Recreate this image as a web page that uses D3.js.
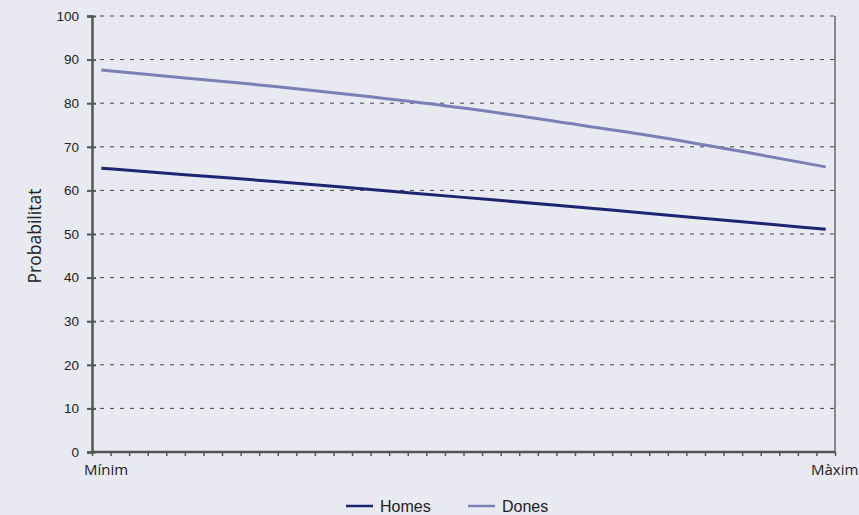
<!DOCTYPE html>
<html>
<head>
<meta charset="utf-8">
<script src="https://cdn.jsdelivr.net/npm/d3@7"></script>
<style>
  html, body { margin: 0; padding: 0; background: #e9e9f2; }
  svg { display: block; }
</style>
</head>
<body>
<svg id="chart" width="859" height="515"></svg>
<script>
// Data
const xPositions = [0.5, 5, 10, 15, 20, 25, 30, 35, 39.5];
const homes = [65.1, 63.6, 62.0, 60.2, 58.4, 56.6, 54.7, 52.8, 51.1];
const dones = [87.6, 85.8, 83.8, 81.5, 78.9, 75.8, 72.6, 68.9, 65.4];
const yTicks = [0, 10, 20, 30, 40, 50, 60, 70, 80, 90, 100];
const xLabels = ["Mínim", "Màxim"];
const seriesNames = ["Homes", "Dones"];
const colors = ["#1c2670", "#7a80b6"];

const svg = d3.select("#chart");
const W = 859, H = 515;
svg.append("rect").attr("width", W).attr("height", H).attr("fill", "#e9e9f2");

const mLeft = 92, mRight = 835, mTop = 16, mBottom = 452;
const x = d3.scaleLinear().domain([0, 40]).range([mLeft, mRight]);
const y = d3.scaleLinear().domain([0, 100]).range([mBottom, mTop]);

// gridlines
svg.append("g").selectAll("line").data(yTicks.filter(d => d > 0)).join("line")
  .attr("x1", mLeft + 8).attr("x2", mRight)
  .attr("y1", d => y(d)).attr("y2", d => y(d))
  .attr("stroke", "#444").attr("stroke-width", 1)
  .attr("stroke-dasharray", "4,6");

// right border
svg.append("line").attr("x1", mRight).attr("x2", mRight).attr("y1", mTop).attr("y2", mBottom)
  .attr("stroke", "#666").attr("stroke-width", 1.5);

// Y axis
const yAxis = d3.axisLeft(y).tickValues(yTicks).tickSize(5).tickPadding(8);
const gy = svg.append("g").attr("transform", `translate(${mLeft},0)`).call(yAxis);
gy.select(".domain").attr("stroke", "#555").attr("stroke-width", 2.5);
gy.selectAll(".tick line").attr("stroke", "#555").attr("stroke-width", 2).attr("x1", 4);
gy.selectAll(".tick text").attr("fill", "#222").style("font-family", "Liberation Sans, Arial, sans-serif").style("font-size", "13.5px");

// X axis (minor ticks)
const xAxis = d3.axisBottom(x).tickValues(d3.range(0, 41)).tickSize(4).tickFormat("");
const gx = svg.append("g").attr("transform", `translate(0,${mBottom})`).call(xAxis);
gx.select(".domain").attr("stroke", "#555").attr("stroke-width", 2.5).attr("d", `M${mLeft},0H${mRight}`);
gx.selectAll(".tick line").attr("stroke", "#555").attr("stroke-width", 1.5);

// X labels
svg.append("text").attr("x", 84).attr("y", 475).text(xLabels[0])
  .attr("fill", "#222").style("font-family", "Open Sans, sans-serif").style("font-size", "15px");
svg.append("text").attr("x", 811).attr("y", 475).text(xLabels[1])
  .attr("fill", "#222").style("font-family", "Open Sans, sans-serif").style("font-size", "15px");

// Y title
svg.append("text").attr("transform", `translate(41,${(mTop + mBottom) / 2 + 2}) rotate(-90)`)
  .attr("text-anchor", "middle").text("Probabilitat")
  .attr("fill", "#222").style("font-family", "Open Sans, sans-serif").style("font-size", "17.5px");

// lines
const line = d3.line().x(d => x(d[0])).y(d => y(d[1])).curve(d3.curveMonotoneX);
[homes, dones].forEach((vals, i) => {
  svg.append("path").datum(xPositions.map((p, j) => [p, vals[j]]))
    .attr("d", line).attr("fill", "none").attr("stroke", colors[i]).attr("stroke-width", 3);
});

// legend
const legendX = [346, 468];
seriesNames.forEach((n, i) => {
  svg.append("line").attr("x1", legendX[i]).attr("x2", legendX[i] + 27).attr("y1", 506).attr("y2", 506)
    .attr("stroke", colors[i]).attr("stroke-width", 2.5);
  svg.append("text").attr("x", legendX[i] + 34).attr("y", 511.5).text(n)
    .attr("fill", "#222").style("font-family", "Liberation Sans, Arial, sans-serif").style("font-size", "16px");
});
</script>
</body>
</html>
